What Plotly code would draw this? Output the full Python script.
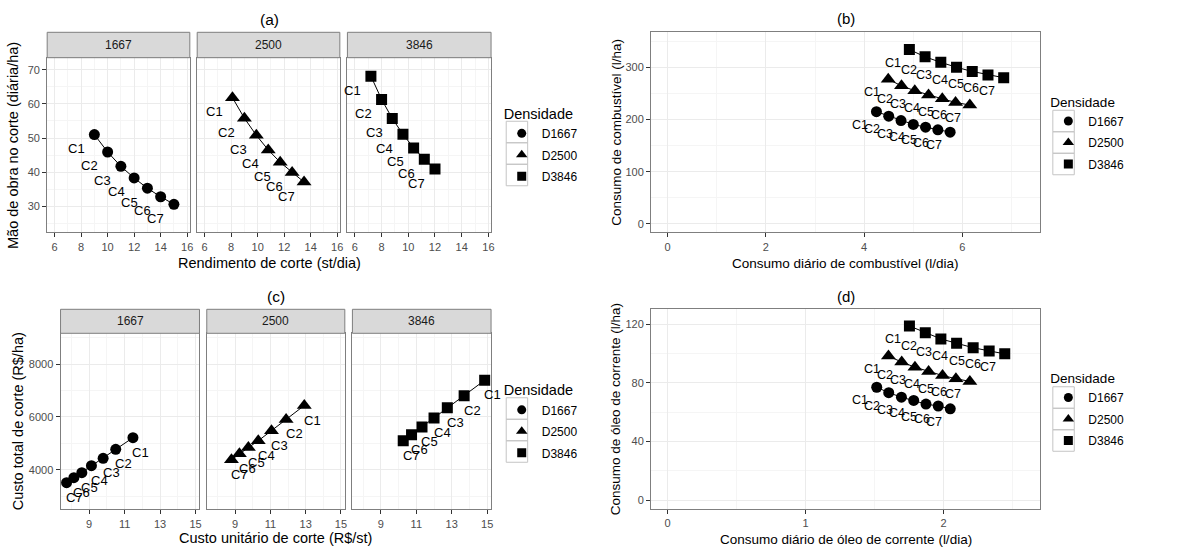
import plotly.graph_objects as go

# ---------------- data ----------------
case_labels = ["C1", "C2", "C3", "C4", "C5", "C6", "C7"]
densities = ["1667", "2500", "3846"]
legend_names = ["D1667", "D2500", "D3846"]

# (a) Rendimento de corte (st/dia) x Mão de obra no corte (diária/ha)
a_yield_1667 = [9.0, 10.0, 11.0, 12.0, 13.0, 14.0, 15.0]
a_labor_1667 = [51.0, 45.9, 41.7, 38.3, 35.3, 32.8, 30.6]
a_yield_2500 = [8.1, 9.0, 9.9, 10.8, 11.7, 12.6, 13.5]
a_labor_2500 = [61.8, 55.8, 50.8, 46.5, 42.9, 39.9, 37.1]
a_yield_3846 = [7.2, 8.0, 8.8, 9.6, 10.4, 11.2, 12.0]
a_labor_3846 = [68.1, 61.3, 55.7, 51.1, 47.1, 43.8, 40.9]

# (b) Consumo diário de combustível (l/dia) x Consumo de combustível (l/ha)
b_daily_1667 = [4.25, 4.50, 4.75, 5.00, 5.25, 5.50, 5.75]
b_perha_1667 = [215.0, 206.4, 198.0, 190.6, 185.2, 180.2, 175.8]
b_daily_2500 = [4.49, 4.76, 5.03, 5.31, 5.59, 5.86, 6.15]
b_perha_2500 = [277.0, 264.5, 255.2, 246.7, 239.6, 232.8, 227.6]
b_daily_3846 = [4.92, 5.24, 5.56, 5.88, 6.20, 6.52, 6.84]
b_perha_3846 = [334.0, 320.0, 309.5, 300.0, 292.0, 285.3, 280.0]

# (c) Custo unitário de corte (R$/st) x Custo total de corte (R$/ha)
c_unit_1667 = [11.47, 10.50, 9.79, 9.13, 8.59, 8.14, 7.73]
c_total_1667 = [5214, 4774, 4433, 4152, 3886, 3696, 3507]
c_unit_2500 = [12.92, 11.89, 11.06, 10.31, 9.75, 9.24, 8.79]
c_total_2500 = [6436, 5905, 5476, 5097, 4842, 4603, 4376]
c_unit_3846 = [14.86, 13.70, 12.75, 12.00, 11.32, 10.73, 10.26]
c_total_3846 = [7393, 6808, 6353, 5962, 5620, 5328, 5100]

# (d) Consumo diário de óleo de corrente (l/dia) x Consumo de óleo de corrente (l/ha)
d_daily_1667 = [1.516, 1.603, 1.695, 1.784, 1.873, 1.962, 2.049]
d_perha_1667 = [77.0, 73.3, 70.2, 68.0, 65.5, 64.2, 62.3]
d_daily_2500 = [1.601, 1.697, 1.793, 1.892, 1.993, 2.090, 2.191]
d_perha_2500 = [98.3, 94.2, 90.7, 87.8, 85.0, 82.8, 81.0]
d_daily_3846 = [1.753, 1.868, 1.981, 2.095, 2.215, 2.331, 2.444]
d_perha_3846 = [118.8, 114.2, 110.0, 107.0, 104.0, 101.8, 99.8]

# ---------------- styling ----------------
FONT = "Liberation Sans, Arial, sans-serif"
W, H = 1187, 547
symbols = ["circle", "triangle-up", "square"]
msizes = [11, 13, 11]
leg_msizes = [9, 10, 9]
GRID = "#EBEBEB"
MINOR = "#F5F5F5"
BORDER = "#7F7F7F"
TICKC = "#4D4D4D"


def px_x(p):
    return p / W


def px_y(p):
    return 1 - p / H


fig = go.Figure()
annotations = []
shapes = []


def add_series(xs, ys, k, xa, ya, dx, dy, lab_size):
    xr = "x" if xa == 1 else f"x{xa}"
    yr = "y" if ya == 1 else f"y{ya}"
    fig.add_trace(go.Scatter(x=xs, y=ys, mode="lines+markers", xaxis=xr, yaxis=yr,
                             line=dict(color="black", width=1),
                             marker=dict(symbol=symbols[k], size=msizes[k], color="black"),
                             name=legend_names[k], showlegend=False))
    for xv, yv, lab in zip(xs, ys, case_labels):
        annotations.append(dict(x=xv, y=yv, xref=xr, yref=yr, text=lab, showarrow=False,
                                xshift=dx, yshift=dy, xanchor="center", yanchor="middle",
                                font=dict(family=FONT, size=lab_size, color="black")))


# (a)
add_series(a_yield_1667, a_labor_1667, 0, 1, 1, -18, -14, 13)
add_series(a_yield_2500, a_labor_2500, 1, 2, 2, -18, -14, 13)
add_series(a_yield_3846, a_labor_3846, 2, 3, 3, -18, -14, 13)
# (b)
add_series(b_daily_1667, b_perha_1667, 0, 4, 4, -16.5, -13, 12.5)
add_series(b_daily_2500, b_perha_2500, 1, 4, 4, -16.5, -13, 12.5)
add_series(b_daily_3846, b_perha_3846, 2, 4, 4, -16.5, -13, 12.5)
# (c)
add_series(c_unit_1667, c_total_1667, 0, 5, 5, 8, -14.5, 13)
add_series(c_unit_2500, c_total_2500, 1, 6, 6, 8, -14.5, 13)
add_series(c_unit_3846, c_total_3846, 2, 7, 7, 8, -14.5, 13)
# (d)
add_series(d_daily_1667, d_perha_1667, 0, 8, 8, -16.5, -13, 12.5)
add_series(d_daily_2500, d_perha_2500, 1, 8, 8, -16.5, -13, 12.5)
add_series(d_daily_3846, d_perha_3846, 2, 8, 8, -16.5, -13, 12.5)

# legend keys (one legend per panel, as in the ggplot composite)
for leg in ["legend", "legend2", "legend3", "legend4"]:
    for k in range(3):
        fig.add_trace(go.Scatter(x=[None], y=[None], mode="markers", name=legend_names[k],
                                 legend=leg, legendgroup=leg + legend_names[k],
                                 marker=dict(symbol=symbols[k], size=leg_msizes[k], color="black"),
                                 showlegend=True))


def axis_common(domain, rng, dtick, tick0, mdtick, mtick0, showlabels=True, showticks=True,
                anchor=None, fs=11):
    d = dict(domain=domain, range=rng, dtick=dtick, tick0=tick0, showgrid=True,
             gridcolor=GRID, gridwidth=1.1, zeroline=False, showline=True, mirror=True,
             linecolor=BORDER, linewidth=1,
             ticks="outside" if showticks else "", ticklen=4, tickcolor="#333333",
             showticklabels=showlabels,
             tickfont=dict(family=FONT, size=fs, color=TICKC),
             minor=dict(dtick=mdtick, tick0=mtick0, showgrid=True, gridcolor=MINOR, gridwidth=1),
             fixedrange=True)
    if anchor:
        d["anchor"] = anchor
    return d


layout_axes = {}
# (a) facets
a_x_domains = [(47.3, 190.3), (197.7, 340.7), (348.3, 492.3)]
a_y = (57.7, 232.3)
for i, (l, r) in enumerate(a_x_domains):
    n = i + 1
    sx = "xaxis" if n == 1 else f"xaxis{n}"
    sy = "yaxis" if n == 1 else f"yaxis{n}"
    layout_axes[sx] = axis_common([px_x(l), px_x(r)], [5.44, 16.2], 2, 6, 1, 7,
                                  anchor="y" if n == 1 else f"y{n}")
    layout_axes[sy] = axis_common([px_y(a_y[1]), px_y(a_y[0])], [22.4, 73.5], 10, 30, 5, 25,
                                  showlabels=(n == 1), showticks=(n == 1),
                                  anchor="x" if n == 1 else f"x{n}")
    shapes.append(dict(type="rect", xref="paper", yref="paper", x0=px_x(l), x1=px_x(r),
                       y0=px_y(57.7), y1=px_y(32.3), fillcolor="#D9D9D9",
                       line=dict(color=BORDER, width=1)))
    annotations.append(dict(x=px_x((l + r) / 2), y=px_y(45), xref="paper", yref="paper",
                            text=densities[i], showarrow=False, xanchor="center", yanchor="middle",
                            font=dict(family=FONT, size=12, color="#1A1A1A")))

# (b)
layout_axes["xaxis4"] = axis_common([px_x(652.7), px_x(1042.7)], [-0.337, 7.58], 2, 0, 1, 1, anchor="y4")
layout_axes["yaxis4"] = axis_common([px_y(232.3), px_y(32.3)], [-16, 367], 100, 0, 50, 50, anchor="x4")

# (c) facets
c_x_domains = [(60.7, 200.0), (207.3, 345.7), (353.3, 492.3)]
c_y = (333.3, 509.3)
for i, (l, r) in enumerate(c_x_domains):
    n = i + 5
    layout_axes[f"xaxis{n}"] = axis_common([px_x(l), px_x(r)], [7.39, 15.22], 2, 9, 1, 8,
                                           anchor=f"y{n}")
    layout_axes[f"yaxis{n}"] = axis_common([px_y(c_y[1]), px_y(c_y[0])], [2497, 9176], 2000, 4000,
                                           1000, 3000, showlabels=(n == 5), showticks=(n == 5),
                                           anchor=f"x{n}")
    shapes.append(dict(type="rect", xref="paper", yref="paper", x0=px_x(l), x1=px_x(r),
                       y0=px_y(333.3), y1=px_y(309.3), fillcolor="#D9D9D9",
                       line=dict(color=BORDER, width=1)))
    annotations.append(dict(x=px_x((l + r) / 2), y=px_y(321.3), xref="paper", yref="paper",
                            text=densities[i], showarrow=False, xanchor="center", yanchor="middle",
                            font=dict(family=FONT, size=12, color="#1A1A1A")))

# (d)
layout_axes["xaxis8"] = axis_common([px_x(652.7), px_x(1042.7)], [-0.12, 2.70], 1, 0, 0.5, 0.5, anchor="y8")
layout_axes["yaxis8"] = axis_common([px_y(509.0), px_y(309.3)], [-6.1, 130.2], 40, 0, 20, 20, anchor="x8")


# titles and axis titles
def text_ann(x, y, text, size, angle=0):
    annotations.append(dict(x=px_x(x), y=px_y(y), xref="paper", yref="paper", text=text,
                            showarrow=False, textangle=angle, xanchor="center", yanchor="middle",
                            font=dict(family=FONT, size=size, color="black")))


text_ann(269.8, 19.5, "(a)", 15.5)
text_ann(847.7, 18.5, "(b)", 15)
text_ann(276.5, 296, "(c)", 15.5)
text_ann(847.7, 296.7, "(d)", 15)

text_ann(269.8, 263, "Rendimento de corte (st/dia)", 14.5)
text_ann(13, 145, "Mão de obra no corte (diária/ha)", 14.5, -90)
text_ann(847.7, 263.3, "Consumo diário de combustível (l/dia)", 13.5)
text_ann(618, 132.3, "Consumo de combustível (l/ha)", 13.5, -90)
text_ann(276.5, 538, "Custo unitário de corte (R$/st)", 14.5)
text_ann(18, 421.3, "Custo total de corte (R$/ha)", 14.5, -90)
text_ann(847.7, 539, "Consumo diário de óleo de corrente (l/dia)", 13.5)
text_ann(616.7, 409.2, "Consumo de óleo de corrente (l/ha)", 13.5, -90)

# legend positions (px of top-left) and key boxes
legend_pos = {"legend": (503, 100, 14.5), "legend2": (1051, 89, 13.5),
              "legend3": (503, 376.5, 14.5), "legend4": (1051, 365.5, 13.5)}
legend_layout = {}
for name, (lx, ly, ts) in legend_pos.items():
    legend_layout[name] = dict(x=px_x(lx), y=px_y(ly), xanchor="left", yanchor="top",
                               title=dict(text="Densidade", font=dict(family=FONT, size=ts, color="black")),
                               font=dict(family=FONT, size=12, color="black"),
                               bgcolor="rgba(0,0,0,0)", tracegroupgap=2.5, itemsizing="trace")
    for k in range(3):
        cy = ly + 32 + k * 21.5
        shapes.append(dict(type="rect", xref="paper", yref="paper", layer="above",
                           x0=px_x(lx + 4.5), x1=px_x(lx + 26),
                           y0=px_y(cy + 10.75), y1=px_y(cy - 10.75),
                           fillcolor="rgba(0,0,0,0)", line=dict(color="#C4C4C4", width=1)))

fig.update_layout(
    width=W, height=H, margin=dict(l=0, r=0, t=0, b=0),
    paper_bgcolor="white", plot_bgcolor="white",
    font=dict(family=FONT),
    showlegend=True,
    annotations=annotations,
    shapes=shapes,
    **legend_layout,
    **layout_axes,
)

fig.write_html("out.html", config={"displayModeBar": False},
               post_script="document.body.style.margin='0px';document.body.style.padding='0px';")
